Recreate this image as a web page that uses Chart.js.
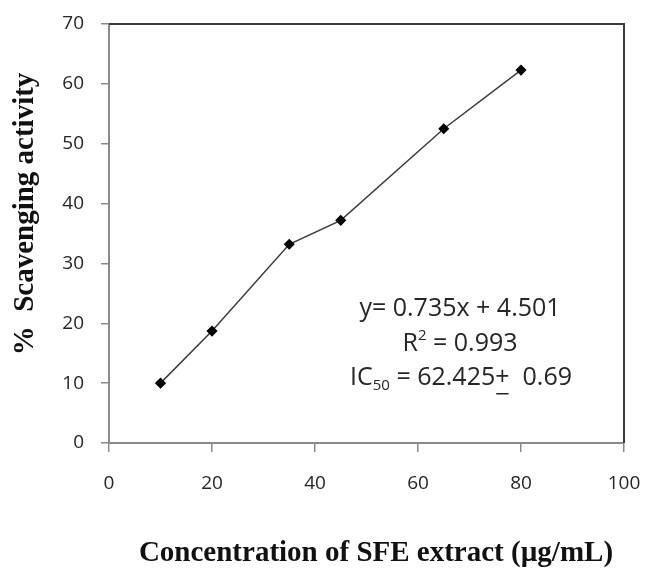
<!DOCTYPE html>
<html>
<head>
<meta charset="utf-8">
<script src="https://cdn.jsdelivr.net/npm/chart.js@4"></script>
<style>
  html, body { margin: 0; padding: 0; background: #fff; }
  #wrap { width: 645px; height: 569px; position: relative; }
</style>
</head>
<body>
<div id="wrap"><canvas id="chart" width="645" height="569"></canvas></div>
<script>
// concentration (µg/mL) and % scavenging activity
const concentration = [10, 20, 35, 45, 65, 80];
const scavenging = [10.0, 18.7, 33.2, 37.2, 52.5, 62.3];
const xTicks = [0, 20, 40, 60, 80, 100];
const yTicks = [0, 10, 20, 30, 40, 50, 60, 70];

const tickFont = { family: 'Open Sans', size: 19 };
const tickColor = '#262626';
const axisGray = '#8a8a8a';

// frame, axis titles and the regression note
const decor = {
  id: 'decor',
  afterDraw(chart) {
    const { ctx, chartArea: a } = chart;
    ctx.save();
    // top and right edge of the frame are dark
    ctx.strokeStyle = '#3a3a3a';
    ctx.lineWidth = 2;
    ctx.beginPath();
    ctx.moveTo(a.left, a.top);
    ctx.lineTo(a.right, a.top);
    ctx.lineTo(a.right, a.bottom);
    ctx.stroke();

    // axis titles
    ctx.fillStyle = '#111';
    ctx.font = 'bold 29px "Liberation Serif"';
    ctx.textAlign = 'center';
    ctx.textBaseline = 'middle';
    ctx.fillText('Concentration of SFE extract (µg/mL)', 376, 554);
    ctx.save();
    ctx.translate(26, 214);
    ctx.rotate(-Math.PI / 2);
    ctx.fillText('%  Scavenging activity', 0, 0);
    ctx.restore();

    // regression text
    ctx.fillStyle = '#262626';
    const f = '"Open Sans"';
    const big = '25px ' + f, small = '15px ' + f;
    ctx.font = big;
    ctx.textAlign = 'center';
    ctx.fillText('y= 0.735x + 4.501', 460, 309);

    // R² line
    ctx.textAlign = 'left';
    let w1 = ctx.measureText('R').width;
    ctx.font = small;
    let w2 = ctx.measureText('2').width;
    ctx.font = big;
    let w3 = ctx.measureText(' = 0.993').width;
    let x = 460 - (w1 + w2 + w3) / 2;
    ctx.fillText('R', x, 344);
    ctx.font = small;
    ctx.fillText('2', x + w1, 336);
    ctx.font = big;
    ctx.fillText(' = 0.993', x + w1 + w2, 344);

    // IC50 line
    const p1 = 'IC', p2 = '50', p3 = ' = 62.425', p4 = '+', p5 = '  0.69';
    let a1 = ctx.measureText(p1).width;
    ctx.font = small;
    let a2 = ctx.measureText(p2).width;
    ctx.font = big;
    let a3 = ctx.measureText(p3).width;
    let a4 = ctx.measureText(p4).width;
    let a5 = ctx.measureText(p5).width;
    x = 461 - (a1 + a2 + a3 + a4 + a5) / 2;
    ctx.fillText(p1, x, 378);
    ctx.font = small;
    ctx.fillText(p2, x + a1, 386);
    ctx.font = big;
    ctx.fillText(p3, x + a1 + a2, 378);
    let px = x + a1 + a2 + a3;
    ctx.fillText(p4, px, 378);
    ctx.fillRect(px + 1, 393, a4 - 2, 1.5);
    ctx.fillText(p5, px + a4, 378);
    ctx.restore();
  }
};

new Chart(document.getElementById('chart'), {
  type: 'line',
  data: {
    datasets: [{
      data: concentration.map((c, i) => ({ x: c, y: scavenging[i] })),
      borderColor: '#3c3c3c',
      borderWidth: 1.5,
      pointStyle: 'rectRot',
      pointRadius: 4.5,
      pointBackgroundColor: '#000',
      pointBorderColor: '#000',
      tension: 0
    }]
  },
  options: {
    responsive: false,
    animation: false,
    events: [],
    layout: { padding: { top: 24, right: 21, left: 0, bottom: 0 } },
    plugins: { legend: { display: false }, tooltip: { enabled: false } },
    scales: {
      x: {
        type: 'linear',
        min: 0, max: 100,
        afterBuildTicks: s => { s.ticks = xTicks.map(v => ({ value: v })); },
        afterFit: s => { s.height = 126; s.paddingLeft = 0; s.paddingRight = 0; },
        grid: { drawOnChartArea: false, drawTicks: true, tickLength: 9, color: axisGray, lineWidth: 1.5 },
        border: { color: axisGray, width: 2 },
        ticks: { font: tickFont, color: tickColor, padding: 20, maxRotation: 0, autoSkip: false }
      },
      y: {
        type: 'linear',
        min: 0, max: 70,
        afterBuildTicks: s => { s.ticks = yTicks.map(v => ({ value: v })); },
        afterFit: s => { s.width = 109; s.paddingTop = 0; s.paddingBottom = 0; },
        grid: { drawOnChartArea: false, drawTicks: true, tickLength: 8, color: axisGray, lineWidth: 1.5 },
        border: { color: axisGray, width: 2 },
        ticks: { font: tickFont, color: tickColor, padding: 17, autoSkip: false }
      }
    }
  },
  plugins: [decor]
});
</script>
</body>
</html>
